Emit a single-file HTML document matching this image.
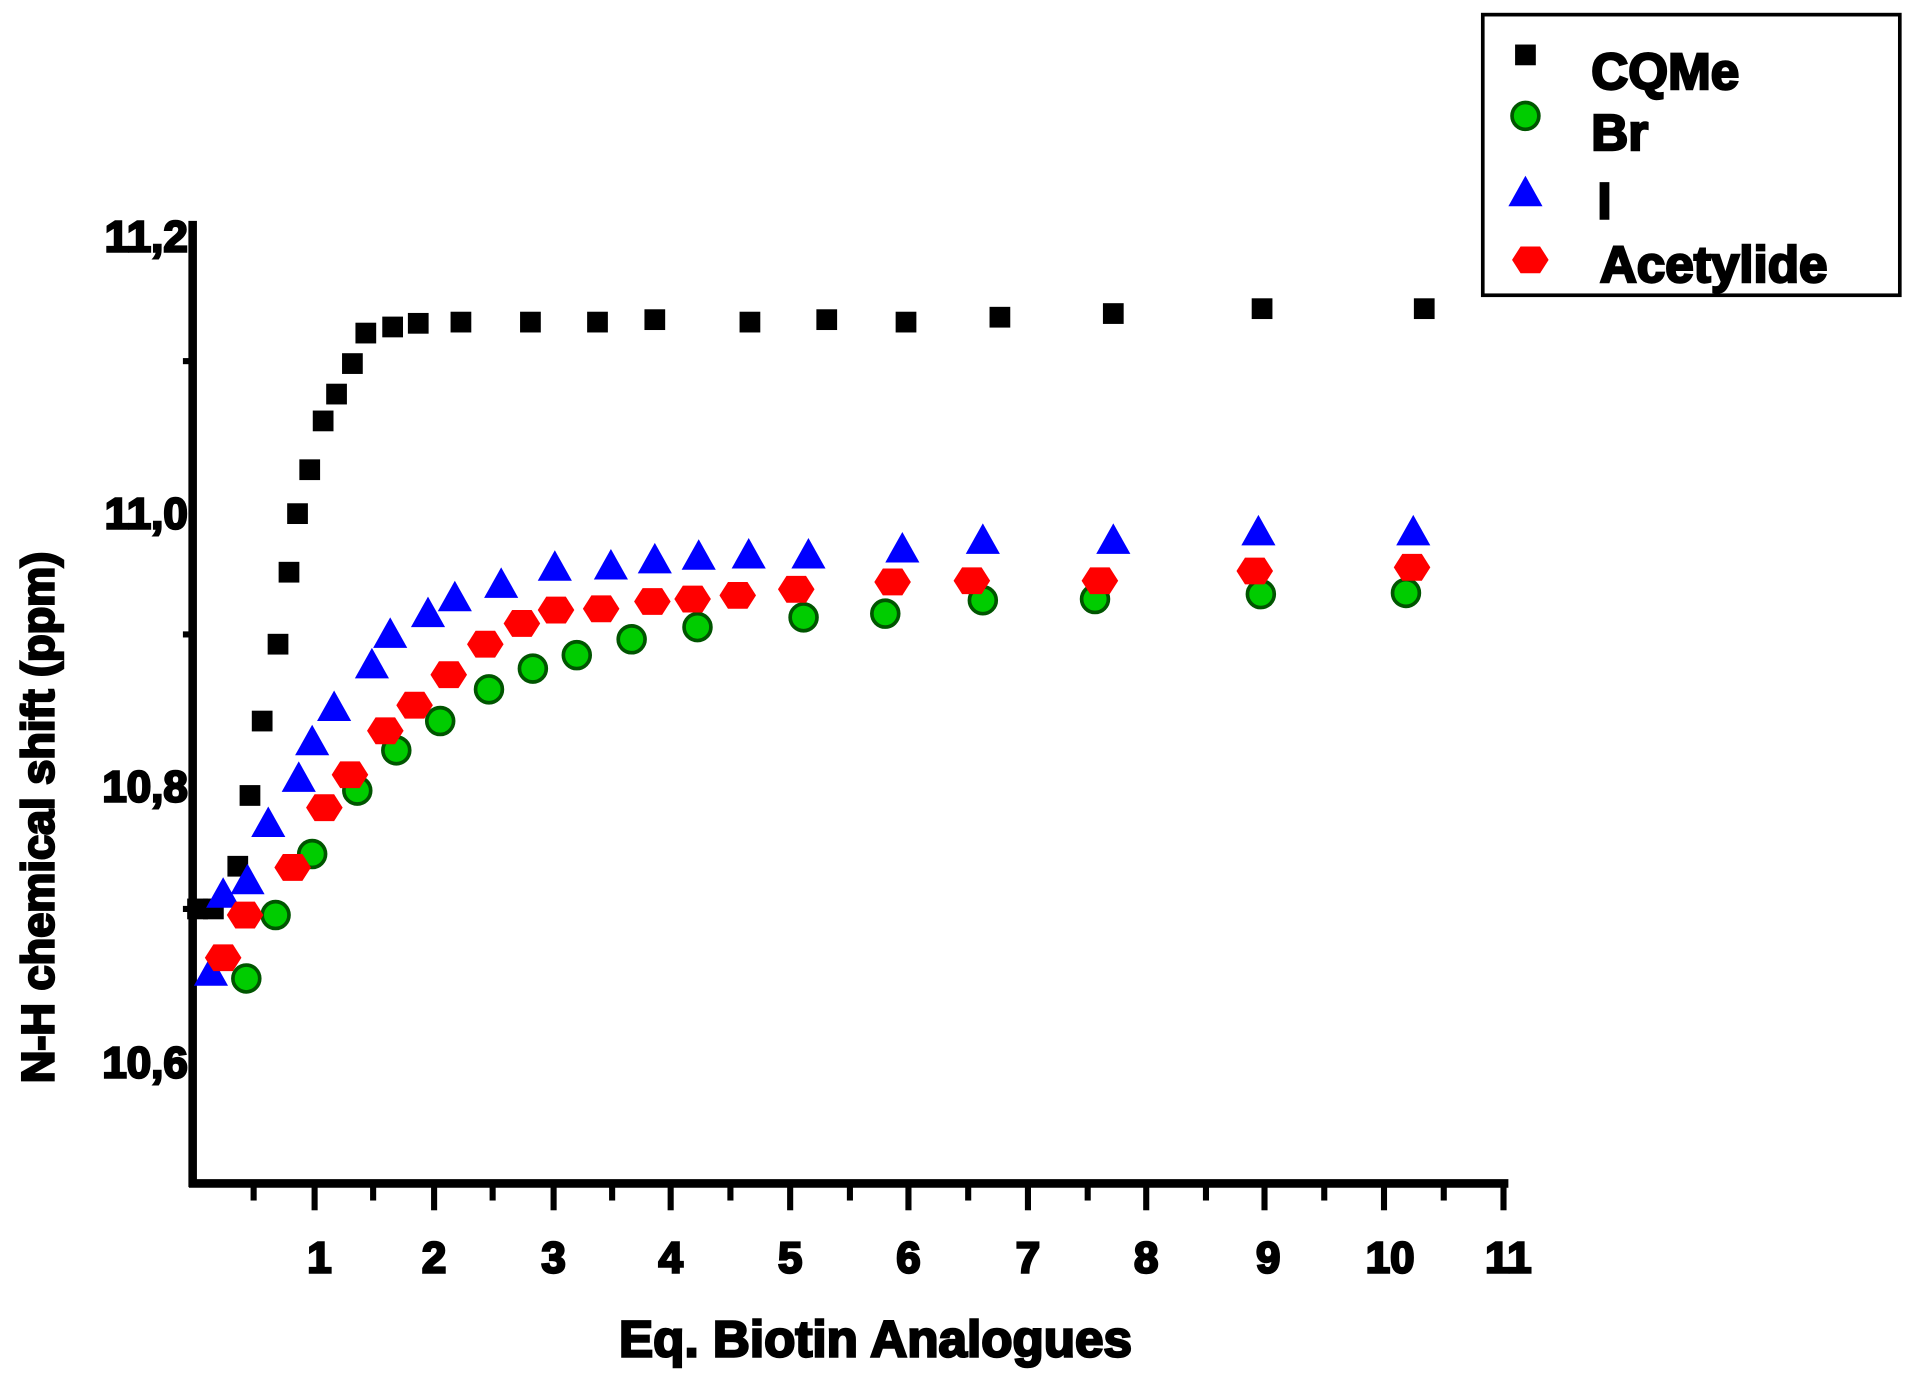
<!DOCTYPE html>
<html><head><style>html,body{margin:0;padding:0;background:#fff;}svg{display:block}</style></head>
<body>
<svg width="1912" height="1375" viewBox="0 0 1568 1127" preserveAspectRatio="none" xmlns="http://www.w3.org/2000/svg" font-family="Liberation Sans, Arial, sans-serif" font-weight="bold">
<defs>
<rect id="sq" x="-8.5" y="-8.5" width="17" height="17" fill="#000"/>
<g id="ci"><circle r="11" fill="#00cc00" stroke="#005500" stroke-width="3"/></g>
<polygon id="tr" points="0,-14 14,11 -14,11" fill="#0000ff"/>
<polygon id="ac" points="-15,0 -8,-11 8,-11 15,0 8,11 -8,11" fill="#ff0000"/>
</defs>
<line x1="158" y1="181" x2="158" y2="973" stroke="#000" stroke-width="7"/>
<line x1="155" y1="970" x2="1237" y2="970" stroke="#000" stroke-width="7"/>
<g stroke="#000" stroke-width="5">
<line x1="150" y1="296" x2="158" y2="296"/><line x1="150" y1="520" x2="158" y2="520"/><line x1="150" y1="745" x2="158" y2="745"/>
<line x1="258" y1="970" x2="258" y2="992"/><line x1="356" y1="970" x2="356" y2="992"/><line x1="454" y1="970" x2="454" y2="992"/>
<line x1="550" y1="970" x2="550" y2="992"/><line x1="648" y1="970" x2="648" y2="992"/><line x1="745" y1="970" x2="745" y2="992"/>
<line x1="843" y1="970" x2="843" y2="992"/><line x1="940" y1="970" x2="940" y2="992"/><line x1="1037" y1="970" x2="1037" y2="992"/>
<line x1="1135" y1="970" x2="1135" y2="992"/><line x1="1233" y1="970" x2="1233" y2="992"/>
<line x1="208" y1="970" x2="208" y2="984"/><line x1="306" y1="970" x2="306" y2="984"/><line x1="404" y1="970" x2="404" y2="984"/>
<line x1="502" y1="970" x2="502" y2="984"/><line x1="599" y1="970" x2="599" y2="984"/><line x1="697" y1="970" x2="697" y2="984"/>
<line x1="794" y1="970" x2="794" y2="984"/><line x1="892" y1="970" x2="892" y2="984"/><line x1="989" y1="970" x2="989" y2="984"/>
<line x1="1086" y1="970" x2="1086" y2="984"/><line x1="1184" y1="970" x2="1184" y2="984"/>
</g>
<g stroke="#000" stroke-width="2">
<g font-size="36" text-anchor="end">
<text x="154" y="206">11,2</text><text x="154" y="433">11,0</text><text x="154" y="657">10,8</text><text x="154" y="883">10,6</text>
</g>
<g font-size="36" text-anchor="middle">
<text x="262" y="1043">1</text><text x="356" y="1043">2</text><text x="454" y="1043">3</text><text x="550" y="1043">4</text>
<text x="648" y="1043">5</text><text x="745" y="1043">6</text><text x="843" y="1043">7</text><text x="940" y="1043">8</text>
<text x="1040" y="1043">9</text><text x="1140" y="1043">10</text><text x="1237" y="1043">11</text>
</g>
<text x="718" y="1112" font-size="42" text-anchor="middle">Eq. Biotin Analogues</text>
<text transform="translate(44,670) rotate(-90)" font-size="37" text-anchor="middle">N-H chemical shift (ppm)</text>
<g font-size="42">
<text x="1305" y="73">CQMe</text>
<text x="1305" y="123">Br</text>
<text x="1310" y="179">I</text>
<text x="1312" y="231">Acetylide</text>
</g>
</g>
<g>
<use href="#sq" x="162" y="745"/><use href="#sq" x="175" y="745"/><use href="#sq" x="195" y="710"/><use href="#sq" x="205" y="652"/>
<use href="#sq" x="215" y="591"/><use href="#sq" x="228" y="528"/><use href="#sq" x="237" y="469"/><use href="#sq" x="244" y="421"/>
<use href="#sq" x="254" y="385"/><use href="#sq" x="265" y="345"/><use href="#sq" x="276" y="323"/><use href="#sq" x="289" y="298"/>
<use href="#sq" x="300" y="273"/><use href="#sq" x="322" y="268"/><use href="#sq" x="343" y="265"/><use href="#sq" x="378" y="264"/>
<use href="#sq" x="435" y="264"/><use href="#sq" x="490" y="264"/><use href="#sq" x="537" y="262"/><use href="#sq" x="615" y="264"/>
<use href="#sq" x="678" y="262"/><use href="#sq" x="743" y="264"/><use href="#sq" x="820" y="260"/><use href="#sq" x="913" y="257"/>
<use href="#sq" x="1035" y="253"/><use href="#sq" x="1168" y="253"/>
</g>
<g>
<use href="#ci" x="202" y="802"/><use href="#ci" x="226" y="750"/><use href="#ci" x="256" y="700"/><use href="#ci" x="293" y="648"/>
<use href="#ci" x="325" y="615"/><use href="#ci" x="361" y="591"/><use href="#ci" x="401" y="565"/><use href="#ci" x="437" y="548"/>
<use href="#ci" x="473" y="537"/><use href="#ci" x="518" y="524"/><use href="#ci" x="572" y="514"/><use href="#ci" x="659" y="506"/>
<use href="#ci" x="726" y="503"/><use href="#ci" x="806" y="492"/><use href="#ci" x="898" y="491"/><use href="#ci" x="1034" y="487"/>
<use href="#ci" x="1153" y="486"/>
</g>
<g>
<use href="#tr" x="173" y="797"/><use href="#tr" x="183" y="733"/><use href="#tr" x="203" y="722"/><use href="#tr" x="220" y="675"/>
<use href="#tr" x="245" y="638"/><use href="#tr" x="256" y="608"/><use href="#tr" x="274" y="580"/><use href="#tr" x="305" y="545"/>
<use href="#tr" x="320" y="520"/><use href="#tr" x="351" y="503"/><use href="#tr" x="373" y="490"/><use href="#tr" x="411" y="479"/>
<use href="#tr" x="455" y="465"/><use href="#tr" x="501" y="464"/><use href="#tr" x="537" y="459"/><use href="#tr" x="573" y="456"/>
<use href="#tr" x="614" y="455"/><use href="#tr" x="663" y="455"/><use href="#tr" x="740" y="450"/><use href="#tr" x="806" y="443"/>
<use href="#tr" x="913" y="443"/><use href="#tr" x="1032" y="436"/><use href="#tr" x="1159" y="436"/>
</g>
<g>
<use href="#ac" x="183" y="785"/><use href="#ac" x="201" y="750"/><use href="#ac" x="240" y="711"/><use href="#ac" x="266" y="662"/>
<use href="#ac" x="287" y="635"/><use href="#ac" x="316" y="599"/><use href="#ac" x="340" y="578"/><use href="#ac" x="368" y="553"/>
<use href="#ac" x="398" y="528"/><use href="#ac" x="428" y="511"/><use href="#ac" x="456" y="500"/><use href="#ac" x="493" y="499"/>
<use href="#ac" x="535" y="493"/><use href="#ac" x="568" y="491"/><use href="#ac" x="605" y="488"/><use href="#ac" x="653" y="483"/>
<use href="#ac" x="732" y="477"/><use href="#ac" x="797" y="476"/><use href="#ac" x="902" y="476"/><use href="#ac" x="1029" y="468"/>
<use href="#ac" x="1158" y="465"/>
</g>
<rect x="1216" y="12" width="342" height="230" fill="none" stroke="#000" stroke-width="3"/>
<use href="#sq" x="1251" y="45"/>
<use href="#ci" x="1251" y="95"/>
<use href="#tr" x="1251" y="158"/>
<use href="#ac" x="1255" y="213"/>
</svg>
</body></html>
